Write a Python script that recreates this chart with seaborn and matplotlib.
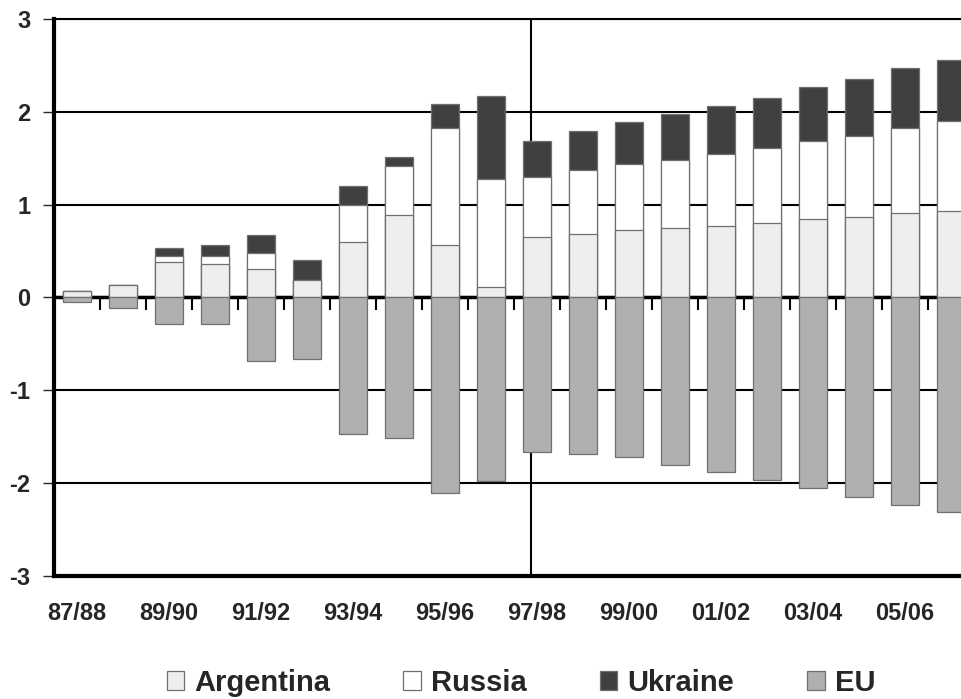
import numpy as np
import pandas as pd
import matplotlib
matplotlib.use("Agg")
import matplotlib.pyplot as plt
from matplotlib.patches import Patch
import seaborn as sns

# Marketing years and net trade balances
years = ["87/88", "88/89", "89/90", "90/91", "91/92", "92/93", "93/94", "94/95",
         "95/96", "96/97", "97/98", "98/99", "99/00", "00/01", "01/02", "02/03",
         "03/04", "04/05", "05/06", "06/07"]
argentina = [0.07, 0.13, 0.38, 0.36, 0.31, 0.19, 0.60, 0.89, 0.56, 0.11,
             0.65, 0.68, 0.73, 0.75, 0.77, 0.80, 0.84, 0.86, 0.91, 0.93]
russia = [0.00, 0.00, 0.06, 0.08, 0.17, 0.00, 0.39, 0.53, 1.26, 1.17,
          0.65, 0.69, 0.71, 0.73, 0.77, 0.81, 0.84, 0.88, 0.91, 0.97]
ukraine = [0.00, 0.00, 0.09, 0.12, 0.19, 0.21, 0.21, 0.09, 0.26, 0.89,
           0.38, 0.42, 0.45, 0.50, 0.52, 0.54, 0.59, 0.61, 0.65, 0.66]
eu = [-0.05, -0.11, -0.29, -0.29, -0.69, -0.67, -1.47, -1.52, -2.11, -1.98,
      -1.67, -1.69, -1.72, -1.81, -1.88, -1.97, -2.06, -2.15, -2.24, -2.31]

series_names = ["Argentina", "Russia", "Ukraine", "EU"]
colors = {"Argentina": "#eeeeee", "Russia": "#ffffff", "Ukraine": "#404040", "EU": "#b0b0b0"}
edge = "#707070"

df = pd.DataFrame({"year": years, "Argentina": argentina, "Russia": russia,
                   "Ukraine": ukraine, "EU": eu})
df["arg_rus"] = df["Argentina"] + df["Russia"]
df["total"] = df["arg_rus"] + df["Ukraine"]

sns.set_style("white")
plt.rcParams["font.family"] = ["Liberation Sans", "DejaVu Sans"]
plt.rcParams["font.weight"] = "bold"

fig = plt.figure(figsize=(9.62, 6.99), dpi=100)
ax = fig.add_axes([54 / 962, 1 - 575.7 / 699, 920 / 962, 556.8 / 699])

# stacked bars: draw cumulative heights from the top layer down
bar_kw = dict(x="year", order=years, width=0.61, saturation=1, errorbar=None,
              edgecolor=edge, linewidth=0.9, ax=ax)
sns.barplot(data=df, y="total", color=colors["Ukraine"], **bar_kw)
sns.barplot(data=df, y="arg_rus", color=colors["Russia"], **bar_kw)
sns.barplot(data=df, y="Argentina", color=colors["Argentina"], **bar_kw)
sns.barplot(data=df, y="EU", color=colors["EU"], **bar_kw)

ax.set_xlim(-0.5, len(years) - 0.5)
ax.set_ylim(-3, 3)
ax.set_xlabel("")
ax.set_ylabel("")

# gridlines and the vertical divider
ax.set_axisbelow(True)
ax.set_yticks(range(-3, 4))
ax.set_yticklabels([str(v) for v in range(-3, 4)], fontsize=17, fontweight="bold")
ax.yaxis.grid(True, color="black", linewidth=1.5)
ax.axvline(9.87, color="black", linewidth=1.5, zorder=0.6)

ax.set_xticks(range(0, len(years), 2))
ax.set_xticklabels(years[::2], fontsize=17, fontweight="bold")
ax.tick_params(axis="x", length=0, pad=19)
ax.tick_params(axis="y", direction="out", length=8, width=1, pad=9, left=True)

for side, lw in [("left", 3), ("bottom", 3), ("top", 1.5)]:
    ax.spines[side].set_visible(True)
    ax.spines[side].set_color("black")
    ax.spines[side].set_linewidth(lw)
ax.spines["right"].set_visible(False)

# zero axis with tick marks between categories
zero_axis = ax.secondary_xaxis(0.5)
zero_axis.set_alignment("bottom")
zero_axis.set_xticks(np.arange(0.5, len(years) - 1, 1))
zero_axis.tick_params(direction="out", length=9, width=1.5, labelbottom=False,
                      color="black")
zero_axis.spines["bottom"].set_linewidth(2.5)
zero_axis.spines["bottom"].set_color("black")

handles = [Patch(facecolor=colors[n], edgecolor=edge, linewidth=0.9, label=n)
           for n in series_names]
fig.legend(handles=handles, loc="center", bbox_to_anchor=(521 / 962, 1 - 683 / 699),
           ncol=4, frameon=False, prop={"size": 21, "weight": "bold"},
           handlelength=0.6, handleheight=0.6, handletextpad=0.35,
           columnspacing=2.5)

fig.savefig("out.png", dpi=100)
